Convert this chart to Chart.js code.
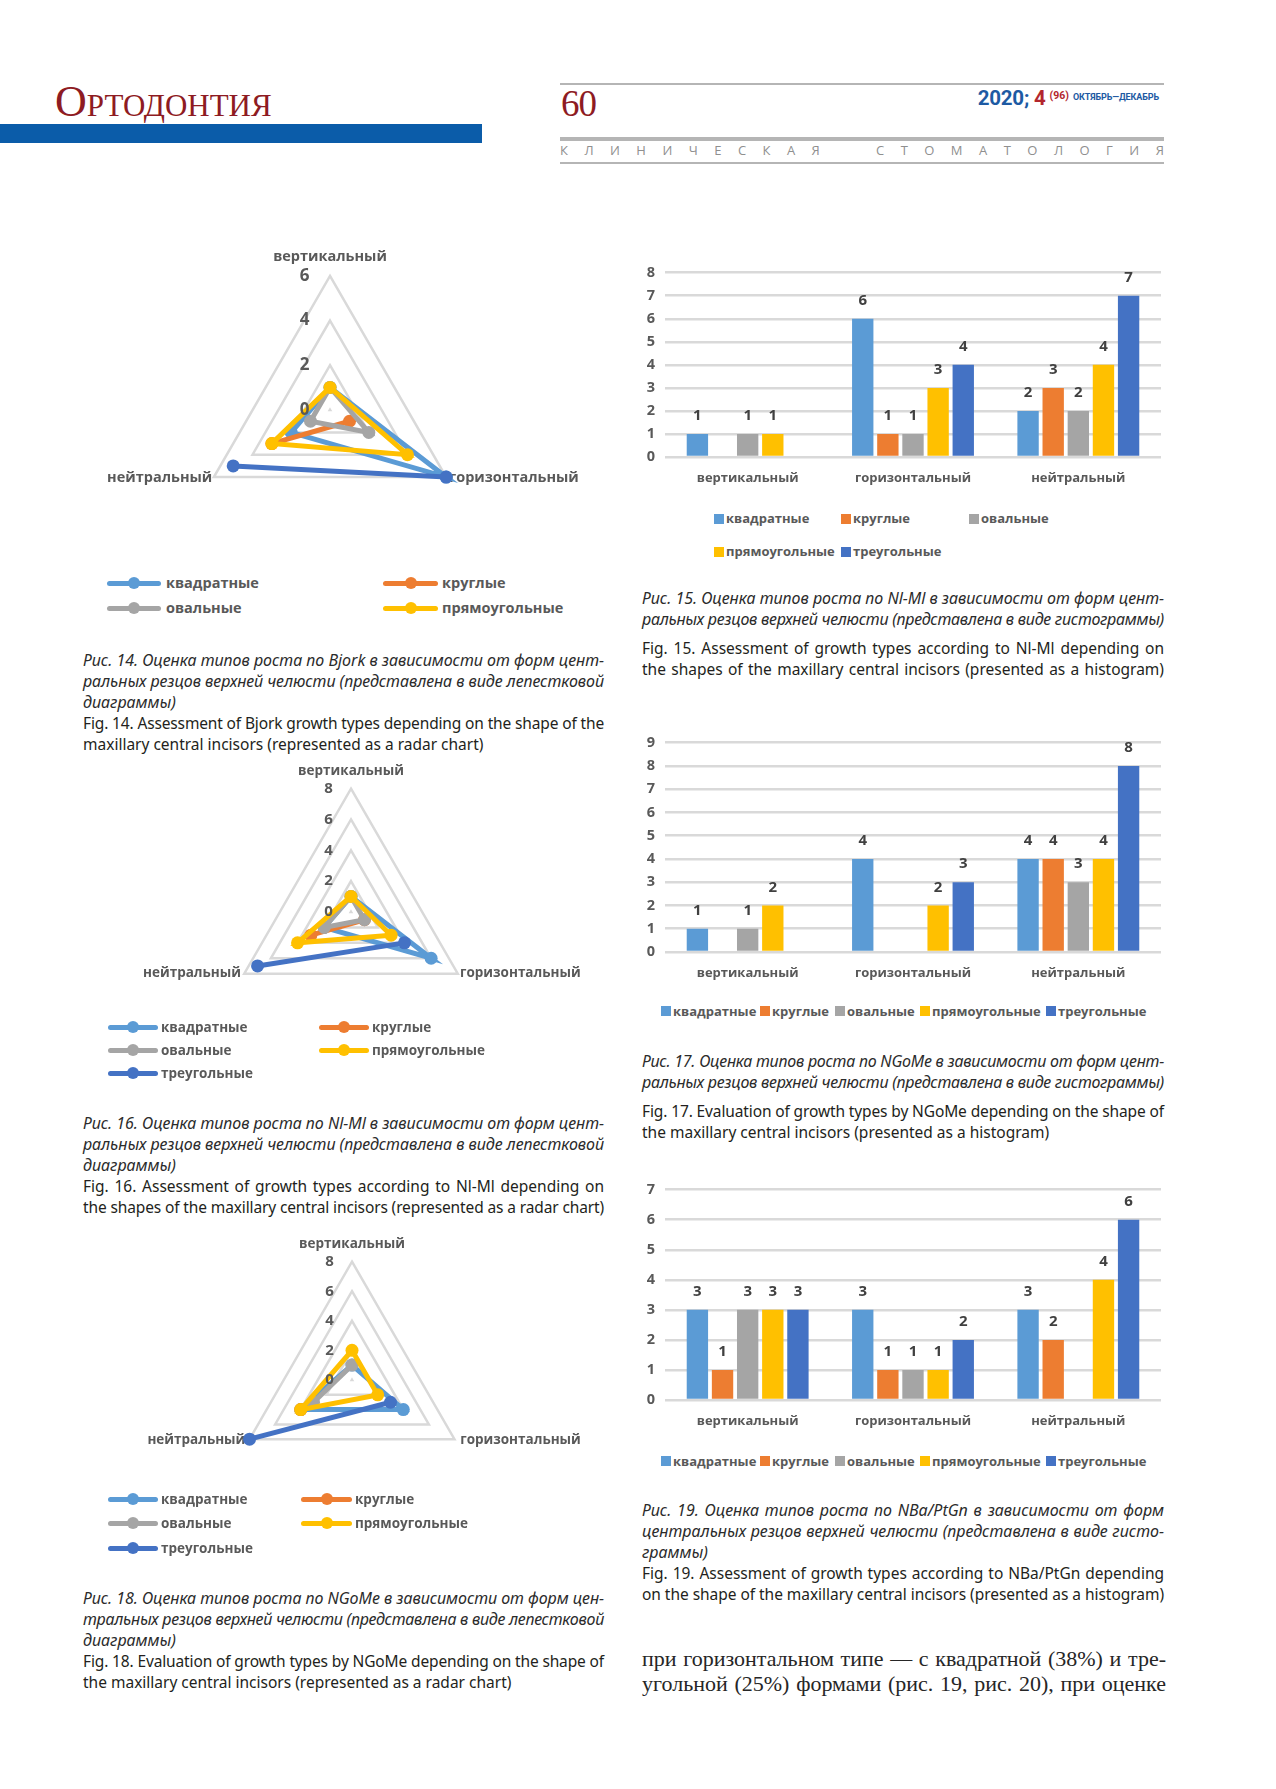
<!DOCTYPE html>
<html lang="ru">
<head>
<meta charset="utf-8">
<title>Ортодонтия — 60</title>
<script src="https://cdn.jsdelivr.net/npm/chart.js@4.4.1/dist/chart.umd.min.js"></script>
<style>
  html, body { margin: 0; padding: 0; background: #fff; }
  body { width: 1276px; height: 1789px; position: relative; overflow: hidden; font-family: "Open Sans", sans-serif; }
  .abs { position: absolute; }
  canvas { position: absolute; }
  .cap { position: absolute; color: #231f20; }
  .ln { white-space: nowrap; }
  .ru { font: italic 16px "Noto Sans", sans-serif; line-height: 21px; color: #2b2b2b; }
  .en { font: 15.5px "Noto Sans", sans-serif; line-height: 21px; }
  .lg { position: absolute; font-weight: bold; color: #595959; white-space: nowrap; }
  .lg .ln-mark { position: absolute; height: 5px; border-radius: 3px; }
  .lg .dot { position: absolute; width: 12px; height: 12px; border-radius: 50%; }
  .lg .sq { position: absolute; width: 10px; height: 10px; }
</style>
</head>
<body>

<!-- шапка страницы -->
<div class="abs" style="left:55px; top:79px; font: 44px 'Liberation Serif', serif; font-variant: small-caps; color:#8e1b22; line-height:46px;">Ортодонтия</div>
<div class="abs" style="left:0; top:124px; width:482px; height:19px; background:#0b5ca9;"></div>
<div class="abs" style="left:560px; top:83px; width:604px; height:2px; background:#b5b5b5;"></div>
<div class="abs" style="left:561px; top:84px; font: 37px 'Liberation Serif', serif; color:#8e1b22; line-height:40px; letter-spacing:-1px;">60</div>
<div class="abs" style="right:117px; top:86px; line-height:20px; white-space:nowrap; font-family: Roboto, sans-serif; font-weight:bold;">
  <span style="font-size:20.5px; color:#1d5aa3; letter-spacing:-0.2px;">2020; <span style="color:#b3262d;">4</span></span>
  <span style="font-size:10.5px; color:#b3262d; vertical-align: 6px;">(96)</span>
  <span style="font-size:9px; color:#1d5aa3; vertical-align: 5px; letter-spacing:-0.1px;">ОКТЯБРЬ—ДЕКАБРЬ</span>
</div>
<div class="abs" style="left:560px; top:137px; width:604px; height:4px; background:#b5b5b5;"></div>
<div id="runhead" class="abs" style="left:560px; top:142px; width:604px; display:flex; justify-content:space-between; font: 13px 'Open Sans', sans-serif; color:#8f8f8f; line-height:16px;"></div>
<div class="abs" style="left:560px; top:162px; width:604px; height:1.5px; background:#b5b5b5;"></div>

<!-- диаграммы -->
<canvas id="radarBjork" width="560" height="330"></canvas>
<canvas id="radarNlMl" width="520" height="300"></canvas>
<canvas id="radarNGoMe" width="520" height="300"></canvas>
<canvas id="barNlMl"></canvas>
<canvas id="barNGoMe"></canvas>
<canvas id="barNBa"></canvas>

<div id="legends"></div>

<!-- подписи -->
<div class="cap" style="left:83px; top:650px; width:521px;">
  <div class="ln ru j"><span>Рис. 14. Оценка типов роста по Bjork в зависимости от форм цент-</span></div>
  <div class="ln ru j"><span>ральных резцов верхней челюсти (представлена в виде лепестковой</span></div>
  <div class="ln ru"><span>диаграммы)</span></div>
  <div class="ln en j"><span>Fig. 14. Assessment of Bjork growth types depending on the shape of the</span></div>
  <div class="ln en"><span>maxillary central incisors (represented as a radar chart)</span></div>
</div>

<div class="cap" style="left:83px; top:1113px; width:521px;">
  <div class="ln ru j"><span>Рис. 16. Оценка типов роста по Nl-Ml в зависимости от форм цент-</span></div>
  <div class="ln ru j"><span>ральных резцов верхней челюсти (представлена в виде лепестковой</span></div>
  <div class="ln ru"><span>диаграммы)</span></div>
  <div class="ln en j"><span>Fig. 16. Assessment of growth types according to Nl-Ml depending on</span></div>
  <div class="ln en j"><span>the shapes of the maxillary central incisors (represented as a radar chart)</span></div>
</div>

<div class="cap" style="left:83px; top:1588px; width:521px;">
  <div class="ln ru j"><span>Рис. 18. Оценка типов роста по NGoMe в зависимости от форм цен-</span></div>
  <div class="ln ru j"><span>тральных резцов верхней челюсти (представлена в виде лепестковой</span></div>
  <div class="ln ru"><span>диаграммы)</span></div>
  <div class="ln en j"><span>Fig. 18. Evaluation of growth types by NGoMe depending on the shape of</span></div>
  <div class="ln en"><span>the maxillary central incisors (represented as a radar chart)</span></div>
</div>

<div class="cap" style="left:642px; top:588px; width:522px;">
  <div class="ln ru j"><span>Рис. 15. Оценка типов роста по Nl-Ml в зависимости от форм цент-</span></div>
  <div class="ln ru j"><span>ральных резцов верхней челюсти (представлена в виде гистограммы)</span></div>
  <div class="ln en j" style="margin-top:8px;"><span>Fig. 15. Assessment of growth types according to Nl-Ml depending on</span></div>
  <div class="ln en j"><span>the shapes of the maxillary central incisors (presented as a histogram)</span></div>
</div>

<div class="cap" style="left:642px; top:1051px; width:522px;">
  <div class="ln ru j"><span>Рис. 17. Оценка типов роста по NGoMe в зависимости от форм цент-</span></div>
  <div class="ln ru j"><span>ральных резцов верхней челюсти (представлена в виде гистограммы)</span></div>
  <div class="ln en j" style="margin-top:8px;"><span>Fig. 17. Evaluation of growth types by NGoMe depending on the shape of</span></div>
  <div class="ln en"><span>the maxillary central incisors (presented as a histogram)</span></div>
</div>

<div class="cap" style="left:642px; top:1500px; width:522px;">
  <div class="ln ru j"><span>Рис. 19. Оценка типов роста по NBa/PtGn в зависимости от форм</span></div>
  <div class="ln ru j"><span>центральных резцов верхней челюсти (представлена в виде гисто-</span></div>
  <div class="ln ru"><span>граммы)</span></div>
  <div class="ln en j"><span>Fig. 19. Assessment of growth types according to NBa/PtGn depending</span></div>
  <div class="ln en j"><span>on the shape of the maxillary central incisors (presented as a histogram)</span></div>
</div>

<div class="cap" style="left:642px; top:1646px; width:524px; font: 22px 'Liberation Serif', serif; color:#262626;">
  <div class="ln j" style="line-height:25px;"><span>при горизонтальном типе — с квадратной (38%) и тре-</span></div>
  <div class="ln j" style="line-height:25px;"><span>угольной (25%) формами (рис. 19, рис. 20), при оценке</span></div>
</div>

<script>
// типы роста (оси) и формы резцов (серии)
const growthTypes = ['вертикальный', 'горизонтальный', 'нейтральный'];
const shapeNames = ['квадратные', 'круглые', 'овальные', 'прямоугольные', 'треугольные'];
const shapeColors = ['#5B9BD5', '#ED7D31', '#A5A5A5', '#FFC000', '#4472C4'];

// пустые ячейки (null) не рисуются — ни столбца, ни подписи, ни отрезка
// Рис. 14 — по Bjork (вертикальный, горизонтальный, нейтральный)
const bjorkSquare = [1, 6, 2];
const bjorkRound = [null, 1, 3];
const bjorkOval = [1, 2, 1];
const bjorkRect = [1, 4, 3];
const bjorkTriangle = [null, 6, 5];
const bjorkTicks = [0, 2, 4, 6];

// Рис. 15 и 16 — по Nl-Ml
const nlmlSquare = [1, 6, 2];
const nlmlRound = [null, 1, 3];
const nlmlOval = [1, 1, 2];
const nlmlRect = [1, 3, 4];
const nlmlTriangle = [null, 4, 7];
const nlmlRadarTicks = [0, 2, 4, 6, 8];

// Рис. 17 и 18 — по NGoMe
const ngomeSquare = [1, 4, 4];
const ngomeRound = [null, null, 4];
const ngomeOval = [1, null, 3];
const ngomeRect = [2, 2, 4];
const ngomeTriangle = [null, 3, 8];
const ngomeRadarTicks = [0, 2, 4, 6, 8];

// Рис. 19 — по NBa/PtGn
const nbaSquare = [3, 3, 3];
const nbaRound = [1, 1, 2];
const nbaOval = [3, 1, null];
const nbaRect = [3, 1, 4];
const nbaTriangle = [3, 2, 6];

const runningHead = 'КЛИНИЧЕСКАЯ  СТОМАТОЛОГИЯ';

const FONT = '"Open Sans", sans-serif';
const TEXT_GREY = '#595959';

// колонтитул с разрядкой
const rh = document.getElementById('runhead');
for (const ch of runningHead) {
  const s = document.createElement('span');
  s.textContent = ch === ' ' ? '\u00a0' : ch;
  rh.appendChild(s);
}

// ---------- лепестковые ----------
// сдвиг подписей осей (как в Excel: нижние подписи на уровне углов)
const pointLabelNudge = {
  id: 'pointLabelNudge',
  afterLayout(chart, args, opts) {
    const s = chart.scales.r;
    if (!s || !s._pointLabelItems || !opts.nudge) return;
    s._pointLabelItems.forEach((item, i) => {
      const d = opts.nudge[i] || [0, 0];
      item.x += d[0]; item.left += d[0]; item.right += d[0];
      item.y += d[1]; item.top += d[1]; item.bottom += d[1];
    });
  }
};

function radarChart(id, series, ticks, labelSize, tickSize, nudge) {
  const max = ticks[ticks.length - 1];
  return new Chart(document.getElementById(id), {
    type: 'radar',
    data: {
      labels: growthTypes,
      datasets: series.map((vals, i) => ({
        label: shapeNames[i],
        data: vals,
        borderColor: shapeColors[i],
        backgroundColor: shapeColors[i],
        pointBackgroundColor: shapeColors[i],
        pointBorderColor: shapeColors[i],
        borderWidth: 5,
        pointRadius: 6.5,
        pointBorderWidth: 0,
        fill: false,
        spanGaps: false,
        order: series.length - i
      }))
    },
    options: {
      responsive: false,
      maintainAspectRatio: false,
      animation: false,
      plugins: {
        legend: { display: false },
        tooltip: { enabled: false },
        pointLabelNudge: { nudge: nudge }
      },
      scales: {
        r: {
          min: -0.01,
          max: max,
          afterBuildTicks: s => { s.ticks = ticks.map(v => ({ value: v })); },
          angleLines: { display: false },
          grid: { color: '#d9d9d9', lineWidth: 2.5 },
          ticks: {
            z: 1,
            showLabelBackdrop: false,
            backdropPadding: 0,
            color: TEXT_GREY,
            font: { family: FONT, size: tickSize, weight: 'bold' },
            callback: v => v + '\u2003\u2003\u2003'
          },
          pointLabels: {
            color: TEXT_GREY,
            font: { family: FONT, size: labelSize, weight: 'bold' },
            padding: 2
          }
        }
      }
    },
    plugins: [pointLabelNudge]
  });
}

// подгоняем высоту холста под нужный радиус и ставим центр на место
function placeRadar(chart, cx, cy, R) {
  for (let k = 0; k < 4; k++) {
    const diff = R - chart.scales.r.drawingArea;
    if (Math.abs(diff) < 0.5) break;
    chart.resize(chart.width, Math.round(chart.height + 2 * diff));
  }
  const s = chart.scales.r;
  chart.canvas.style.left = Math.round(cx - s.xCenter) + 'px';
  chart.canvas.style.top = Math.round(cy - s.yCenter) + 'px';
}

const r14 = radarChart('radarBjork', [bjorkSquare, bjorkRound, bjorkOval, bjorkRect, bjorkTriangle], bjorkTicks,
  14.5, 17, [[0, 0], [-6, -13.5], [7.5, -13.5]]);
placeRadar(r14, 330, 410, 134);
const r16 = radarChart('radarNlMl', [nlmlSquare, nlmlRound, nlmlOval, nlmlRect, nlmlTriangle], nlmlRadarTicks,
  13.5, 15, [[0, 0], [-6, -13], [5, -13]]);
placeRadar(r16, 351, 912, 123);
const r18 = radarChart('radarNGoMe', [ngomeSquare, ngomeRound, ngomeOval, ngomeRect, ngomeTriangle], ngomeRadarTicks,
  13.5, 15, [[0, 0], [-2.5, -11.5], [4, -11.5]]);
placeRadar(r18, 352, 1380, 118);

// ---------- гистограммы ----------
const barValueLabels = {
  id: 'barValueLabels',
  afterDatasetsDraw(chart) {
    const ctx = chart.ctx;
    ctx.save();
    ctx.font = 'bold 15px ' + FONT;
    ctx.fillStyle = '#404040';
    ctx.textAlign = 'center';
    ctx.textBaseline = 'middle';
    chart.data.datasets.forEach((ds, i) => {
      chart.getDatasetMeta(i).data.forEach((bar, j) => {
        const v = ds.data[j];
        if (v === null || v === undefined) return;
        ctx.fillText(String(v), bar.x, bar.y - 18);
      });
    });
    ctx.restore();
  }
};

function barChart(id, series, yMax, area) {
  const yAxisW = 44, xAxisH = 40, padTop = 16, padRight = 16;
  const cv = document.getElementById(id);
  cv.width = yAxisW + area.width + padRight;
  cv.height = padTop + area.height + xAxisH;
  cv.style.left = (area.left - yAxisW) + 'px';
  cv.style.top = (area.top - padTop) + 'px';
  return new Chart(cv, {
    type: 'bar',
    data: {
      labels: growthTypes,
      datasets: series.map((vals, i) => ({
        label: shapeNames[i],
        data: vals,
        backgroundColor: shapeColors[i],
        categoryPercentage: 0.76,
        barPercentage: 0.85
      }))
    },
    options: {
      responsive: false,
      maintainAspectRatio: false,
      animation: false,
      layout: { padding: { top: padTop, right: padRight, left: 0, bottom: 0 } },
      plugins: { legend: { display: false }, tooltip: { enabled: false } },
      scales: {
        x: {
          grid: { display: false, drawTicks: false },
          border: { display: false },
          ticks: { color: TEXT_GREY, font: { family: FONT, size: 13, weight: 'bold' }, padding: 13 },
          afterFit: s => { s.height = xAxisH; }
        },
        y: {
          min: 0,
          max: yMax,
          ticks: { stepSize: 1, color: TEXT_GREY, font: { family: FONT, size: 14.5, weight: 'bold' }, padding: 10 },
          grid: { color: '#d9d9d9', lineWidth: 2.5, drawTicks: false },
          border: { display: false },
          afterFit: s => { s.width = yAxisW; }
        }
      }
    },
    plugins: [barValueLabels]
  });
}

barChart('barNlMl', [nlmlSquare, nlmlRound, nlmlOval, nlmlRect, nlmlTriangle], 8,
  { left: 665, top: 270, width: 496, height: 187 });
barChart('barNGoMe', [ngomeSquare, ngomeRound, ngomeOval, ngomeRect, ngomeTriangle], 9,
  { left: 665, top: 740, width: 496, height: 212 });
barChart('barNBa', [nbaSquare, nbaRound, nbaOval, nbaRect, nbaTriangle], 7,
  { left: 665, top: 1187, width: 496, height: 213 });

// ---------- легенды ----------
const legendsBox = document.getElementById('legends');

function lineLegendItem(i, lineX0, lineX1, textX, y, fontSize) {
  const el = document.createElement('div');
  el.className = 'lg';
  el.style.left = '0px';
  el.style.top = '0px';
  el.style.fontSize = fontSize + 'px';
  const line = document.createElement('div');
  line.className = 'ln-mark';
  line.style.background = shapeColors[i];
  line.style.left = lineX0 + 'px';
  line.style.width = (lineX1 - lineX0) + 'px';
  line.style.top = (y - 2.5) + 'px';
  const dot = document.createElement('div');
  dot.className = 'dot';
  dot.style.background = shapeColors[i];
  dot.style.left = ((lineX0 + lineX1) / 2 - 6) + 'px';
  dot.style.top = (y - 6) + 'px';
  const txt = document.createElement('div');
  txt.style.position = 'absolute';
  txt.style.left = textX + 'px';
  txt.style.top = (y - fontSize * 0.7) + 'px';
  txt.style.lineHeight = '1.4';
  txt.textContent = shapeNames[i];
  el.append(line, dot, txt);
  legendsBox.appendChild(el);
}

function squareLegendItem(i, x, y) {
  const el = document.createElement('div');
  el.className = 'lg';
  el.style.left = '0px';
  el.style.top = '0px';
  el.style.fontSize = '13px';
  const sq = document.createElement('div');
  sq.className = 'sq';
  sq.style.background = shapeColors[i];
  sq.style.left = (x - 5) + 'px';
  sq.style.top = (y - 5) + 'px';
  const txt = document.createElement('div');
  txt.style.position = 'absolute';
  txt.style.left = (x + 7) + 'px';
  txt.style.top = (y - 9.5) + 'px';
  txt.style.lineHeight = '18px';
  txt.textContent = shapeNames[i];
  el.append(sq, txt);
  legendsBox.appendChild(el);
}

// Рис. 14: четыре элемента в две колонки
[[107, 161, 166], [383, 438, 442]].forEach((c, col) => {
  [583, 608].forEach((y, row) => lineLegendItem(row * 2 + col, c[0], c[1], c[2], y, 14.5));
});
// Рис. 16 и 18: пять элементов
function fiveLegend(cols, rows) {
  shapeNames.forEach((_, i) => {
    const c = cols[i % 2];
    lineLegendItem(i, c[0], c[1], c[2], rows[Math.floor(i / 2)], 13.5);
  });
}
fiveLegend([[108, 158, 161], [319, 369, 372]], [1027, 1050, 1073]);
fiveLegend([[108, 158, 161], [301, 352, 355]], [1499, 1523, 1548]);

// Рис. 15: две строки
[[719, 518.5], [846, 518.5], [974, 518.5], [719, 551.5], [846, 551.5]].forEach((p, i) => squareLegendItem(i, p[0], p[1]));
// Рис. 17 и 19: одна строка
[666, 765, 840, 925, 1051].forEach((x, i) => squareLegendItem(i, x, 1011));
[666, 765, 840, 925, 1051].forEach((x, i) => squareLegendItem(i, x, 1461));

// ---------- выравнивание строк подписей по ширине ----------
function fitLines() {
  document.querySelectorAll('.ln').forEach(el => {
    const span = el.firstElementChild;
    if (!span) return;
    span.style.letterSpacing = '';
    span.style.wordSpacing = '';
    const target = el.parentElement.clientWidth;
    let w = span.getBoundingClientRect().width;
    if (w > target) {
      span.style.letterSpacing = ((target - w) / span.textContent.length) + 'px';
      w = span.getBoundingClientRect().width;
    }
    if (el.classList.contains('j')) {
      const gaps = (span.textContent.match(/ /g) || []).length;
      if (gaps) span.style.wordSpacing = ((target - w) / gaps) + 'px';
    }
  });
}
fitLines();
if (document.fonts) document.fonts.ready.then(fitLines);
</script>
</body>
</html>
